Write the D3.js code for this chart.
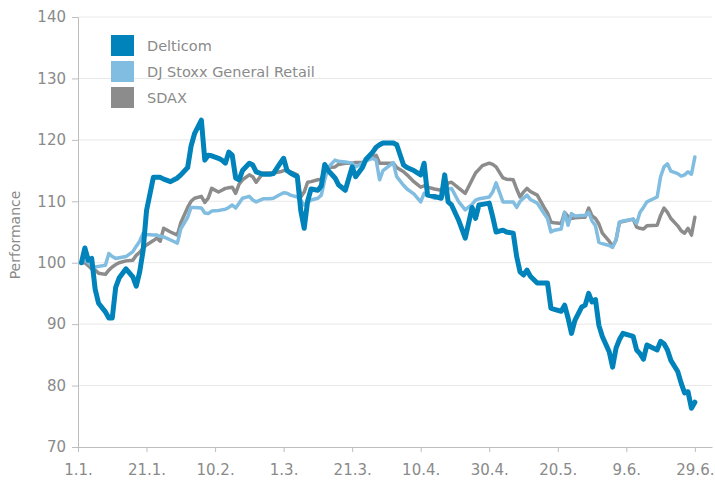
<!DOCTYPE html>
<html lang="de">
<head>
<meta charset="UTF-8">
<title>Performance</title>
<style>
body { margin: 0; background: #fff; }
svg text { font-family: "DejaVu Sans", sans-serif; fill: #8a8a8a; }
.grid line { stroke: #e8e8e8; stroke-width: 1; }
.axis path, .axis line { stroke: #bdbdbd; }
.series { fill: none; stroke-linejoin: round; stroke-linecap: round; }
</style>
</head>
<body>
<svg width="715" height="482"></svg>
<script src="https://d3js.org/d3.v7.min.js"></script>
<script>
// days after 1 Jan 2012
const days = [1,2,3,4,5,6,8,9,10,11,
  12,14,16,17,18,19,20,22,23,24,
  25,27,29,30,32,33,34,36,37,38,
  39,41,42,43,44,45,46,47,48,50,
  51,52,54,56,57,59,60,61,62,64,
  65,66,67,68,70,71,72,73,75,76,
  78,80,81,83,84,86,87,88,89,92,
  93,95,96,98,100,101,102,104,106,107,
  108,109,111,113,115,116,117,118,120,121,
  122,124,125,127,128,129,130,131,132,134,
  136,137,138,139,141,142,143,144,145,147,
  148,149,150,151,152,153,155,156,157,158,
  159,162,163,164,165,166,169,170,171,172,
  173,175,176,177,178,179,180];

const delticom = [100,102.4,100.4,100.7,95.7,93.4,92,91,91,96,
  97.5,99,97.7,96.2,98.5,102,108.5,113.9,113.9,113.9,
  113.6,113.2,113.8,114.3,115.5,119,121,123.2,116.7,117.5,
  117.4,117,116.7,116.2,118,117.5,113.8,113.5,115,116.2,
  115.9,114.8,114.4,114.4,114.5,116.2,117,115,114.6,114,
  108.5,105.6,110,112,111.8,112.5,116,115,113.8,112.7,
  111.8,115.6,114,115.5,116.8,118,118.8,119.2,119.5,119.5,
  119.2,115.9,115.5,115,114.3,116.2,111,110.8,110.5,114.3,
  109.9,109.4,107,104,109,107.2,109.4,109.5,109.7,107.5,
  105,105.3,105,104.8,101,98.5,98,98.8,97.8,96.7,
  96.7,96.7,92.6,92.4,92.1,93.1,91,88.5,90.6,92.8,
  93.1,95,93.6,94,89.8,88,85.5,83,86.1,87.5,
  88.5,88,85.8,85.2,84.3,86.6,85.8,87.2,86.8,85.8,
  84.1,82.3,80.4,78.8,79,76.3,77.3];

const stoxx = [100,100.5,100,99.5,99.3,99.4,99.6,101.5,101,100.7,
  100.8,101,101.8,102.7,103.5,104.8,104.6,104.5,104.5,104.3,
  104.2,103.7,103.2,105.5,107.4,109,109,108.9,108.1,108,
  108.4,108.5,108.6,108.7,109,109.4,108.9,109.7,110.5,110.8,
  110.2,109.9,110.4,110.4,110.5,111.1,111.4,111.3,111,110.7,
  110.2,109.4,109.8,110.2,110.5,111,113.5,115.5,116.7,116.5,
  116.4,116.2,115.6,116.2,116.6,117,116.7,113.5,115,116.3,
  114,112.6,112,111.2,109.9,111.3,111,110.5,110.7,111.2,
  112,112.1,110,108.6,109.5,110.2,110.4,110.5,110.7,111.5,
  113,109.9,109.9,109.9,109,110,110.5,111,110.3,109.7,
  108,107.2,105,105.3,105.5,108.2,106.1,108,107.6,107.7,
  107.7,108.2,106.8,106,103.3,103.1,102.8,102.5,103.7,106.6,
  106.8,107.1,106.4,108.2,109,109.9,110.7,114,115.6,116.1,
  114.9,114.5,114.1,114.3,114.8,114.4,117.2];

const sdax = [100,100,99.5,99,98.8,98.3,98.1,98.8,99.3,99.7,
  100,100.3,100.4,101.2,101.7,102.4,102.9,103.6,104,103.5,
  105.6,105,104.5,106.5,109,110,110.5,110.8,109.8,110.5,
  112.1,111.5,111.8,112.1,112.2,112.3,111.3,112.8,113.5,114.3,
  114,113.1,114.6,114.6,114.6,114.8,115,115,114.8,114.3,
  110.7,111.5,113.1,113.2,113.5,113.6,115,115.5,115.6,116,
  116.2,116.2,116.3,116.3,116.6,117.2,117.5,116.2,116.2,116.2,
  115.5,114.8,114.3,113.2,112.3,112.5,112.3,112,111.8,112,
  113,113.1,112.2,111.3,113.5,114.6,115.2,115.8,116.2,116,
  115.6,113.8,113.6,113.5,112,110.7,111.5,112.1,111.6,111,
  109,108.1,106.6,106.5,106.4,108.2,107.5,107.2,107.3,107.4,
  107.4,108.9,107.6,107.2,106.3,104.8,103.5,102.7,103.7,106.6,
  106.7,107.1,105.8,105.6,105.5,106,106.1,107.7,108.9,108.2,
  107.2,106,105.2,104.8,105.6,104.5,107.4];

const seriesNames = ['Delticom', 'DJ Stoxx General Retail', 'SDAX'];
const seriesColors = ['#0082ba', '#80bde0', '#8c8c8c'];
const xTickDays = [0, 20, 40, 60, 80, 100, 120, 140, 160, 180];
const yTicks = [70, 80, 90, 100, 110, 120, 130, 140];

var svg = d3.select('svg');
var start = new Date(2012, 0, 1);
var dates = days.map(d => d3.timeDay.offset(start, d));

var plot = { left: 78, right: 712, top: 17, bottom: 447 };

var x = d3.scaleTime()
    .domain([start, d3.timeDay.offset(start, 185)])
    .range([plot.left, plot.right]);
var y = d3.scaleLinear()
    .domain([70, 140])
    .range([plot.bottom, plot.top]);

// grid
svg.append('g')
    .attr('class', 'grid')
    .selectAll('line')
    .data(yTicks.slice(1))
    .enter().append('line')
    .attr('x1', plot.left)
    .attr('x2', plot.right)
    .attr('y1', d => y(d))
    .attr('y2', d => y(d));

// axes
svg.append('g')
    .attr('class', 'axis')
    .attr('transform', `translate(${plot.left},0)`)
    .call(d3.axisLeft(y).tickValues(yTicks).tickSize(6).tickSizeOuter(0).tickPadding(6))
    .call(g => g.selectAll('text').style('font-size', '15px'));

svg.append('g')
    .attr('class', 'axis')
    .attr('transform', `translate(0,${plot.bottom})`)
    .call(d3.axisBottom(x)
        .tickValues(xTickDays.map(d => d3.timeDay.offset(start, d)))
        .tickFormat(d3.timeFormat('%-d.%-m.'))
        .tickSize(5).tickSizeOuter(0).tickPadding(12))
    .call(g => g.selectAll('text').style('font-size', '15px'));

svg.selectAll('.axis .domain').attr('stroke', '#bdbdbd');
svg.selectAll('.axis text').attr('fill', '#8a8a8a');

svg.append('text')
    .attr('transform', 'translate(20,235) rotate(-90)')
    .attr('text-anchor', 'middle')
    .style('font-size', '14px')
    .text('Performance');

// lines
var line = d3.line()
    .x((d, i) => x(dates[i]))
    .y(d => y(d));

var order = [
    { values: sdax, color: seriesColors[2], width: 3.5 },
    { values: stoxx, color: seriesColors[1], width: 3.5 },
    { values: delticom, color: seriesColors[0], width: 5 }
];

svg.append('g')
    .selectAll('path')
    .data(order)
    .enter().append('path')
    .attr('class', 'series')
    .attr('stroke', d => d.color)
    .attr('stroke-width', d => d.width)
    .attr('d', d => line(d.values));

// legend
var legend = svg.append('g')
    .selectAll('g')
    .data(seriesNames)
    .enter().append('g')
    .attr('transform', (d, i) => `translate(111,${35 + i * 26})`);

legend.append('rect')
    .attr('width', 23)
    .attr('height', 21)
    .attr('fill', (d, i) => seriesColors[i]);

legend.append('text')
    .attr('x', 36)
    .attr('y', 16)
    .style('font-size', '14.5px')
    .text(d => d);
</script>
</body>
</html>
